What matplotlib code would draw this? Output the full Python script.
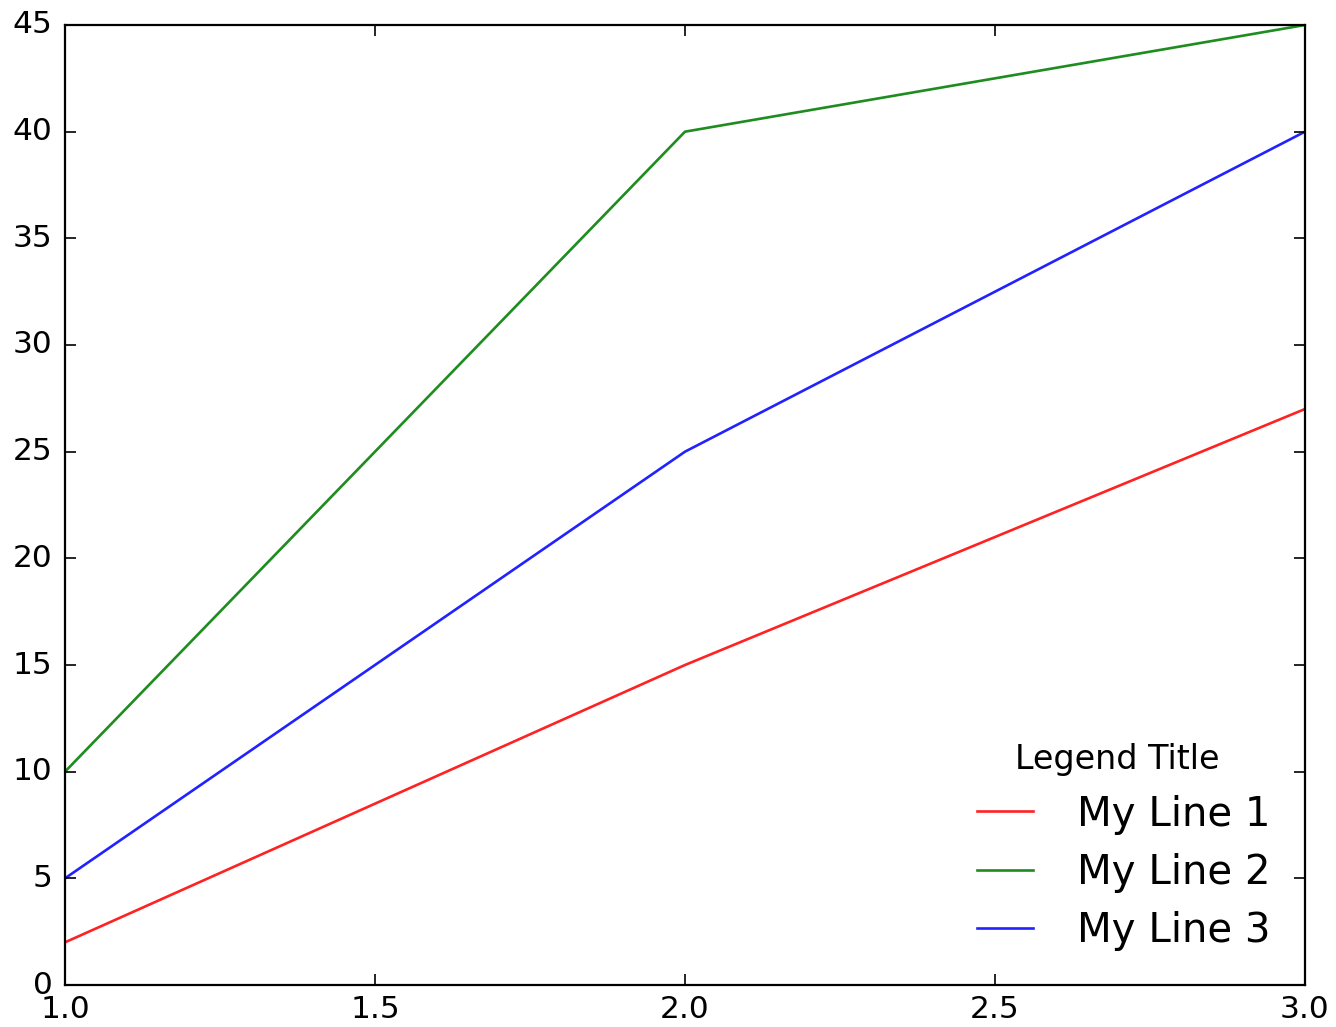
import matplotlib
matplotlib.use('Agg')
import matplotlib.pyplot as plt

x = [1, 2, 3]
line1 = [2, 15, 27]
line2 = [10, 40, 45]
line3 = [5, 25, 40]
labels = ["My Line 1", "My Line 2", "My Line 3"]
colors = ['#ff2222', '#1e8c1e', '#2222ff']

plt.style.use('classic')

fig = plt.figure(figsize=(13.36, 10.27), dpi=100)
ax = fig.add_axes([65 / 1336, 42 / 1027, 1240 / 1336, 960 / 1027])

for ys, lab, c in zip([line1, line2, line3], labels, colors):
    ax.plot(x, ys, color=c, lw=1.9, label=lab)

ax.set_xlim(1.0, 3.0)
ax.set_ylim(0, 45)
ax.set_xticks([1.0, 1.5, 2.0, 2.5, 3.0])
ax.set_yticks(range(0, 46, 5))
ax.tick_params(labelsize=22.5, length=8, width=1.2)
ax.tick_params(axis='y', pad=9)
ax.tick_params(axis='x', pad=7)
for s in ax.spines.values():
    s.set_linewidth(1.6)

leg = ax.legend(title="Legend Title", loc='lower right', frameon=False,
                fontsize=29, handlelength=2.0, handletextpad=0.8,
                labelspacing=0.45, borderaxespad=0.45)
leg.get_title().set_fontsize(24)

fig.savefig('out.png', dpi=100)
